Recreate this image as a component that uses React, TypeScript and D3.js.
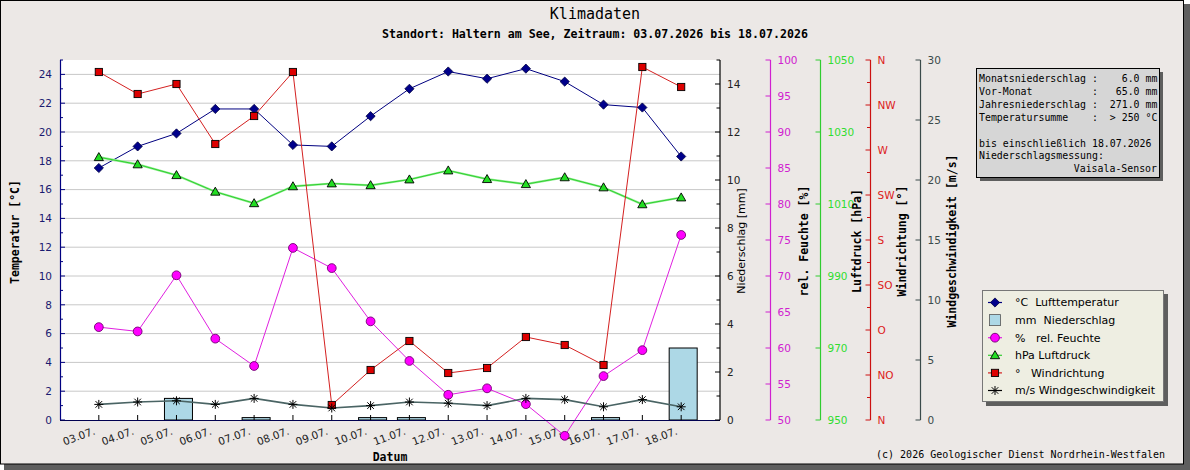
import React from "react";
import * as d3 from "d3";

// Tageswerte 03.07. - 18.07.
const days = ["03.07.", "04.07.", "05.07.", "06.07.", "07.07.", "08.07.", "09.07.", "10.07.", "11.07.", "12.07.", "13.07.", "14.07.", "15.07.", "16.07.", "17.07.", "18.07."];
const temperature = [17.5, 19.0, 19.9, 21.6, 21.6, 19.1, 19.0, 21.1, 23.0, 24.2, 23.7, 24.4, 23.5, 21.9, 21.7, 18.3];
const precipitation = [0, 0, 0.9, 0, 0.1, 0, 0, 0.1, 0.1, 0, 0, 0, 0, 0.1, 0, 3.0];
const humidity = [62.9, 62.3, 70.1, 61.3, 57.5, 73.9, 71.1, 63.7, 58.2, 53.5, 54.4, 52.2, 47.8, 56.1, 59.7, 75.7];
const pressure = [1023.0, 1021.0, 1018.0, 1013.4, 1010.2, 1014.9, 1015.7, 1015.2, 1016.8, 1019.3, 1016.9, 1015.5, 1017.4, 1014.6, 1009.9, 1011.8];
const windDirection = [348, 326, 336, 276, 304, 348, 15, 50, 79, 47, 52, 83, 75, 55, 353, 333];
const windSpeed = [1.3, 1.5, 1.6, 1.3, 1.8, 1.3, 1.0, 1.2, 1.5, 1.4, 1.2, 1.8, 1.7, 1.1, 1.7, 1.1];

const compass = ["N", "NO", "O", "SO", "S", "SW", "W", "NW", "N"];

const infoLines = [
  "Monatsniederschlag :    6.0 mm",
  "Vor-Monat          :   65.0 mm",
  "Jahresniederschlag :  271.0 mm",
  "Temperatursumme    :  > 250 °C",
  "",
  "bis einschließlich 18.07.2026",
  "Niederschlagsmessung:",
];
const infoFooter = "Vaisala-Sensor";

const legendLabels = [
  "°C  Lufttemperatur",
  "mm  Niederschlag",
  "%   rel. Feuchte",
  "hPa Luftdruck",
  "°   Windrichtung",
  "m/s Windgeschwindigkeit",
];

const MONO = "'DejaVu Sans Mono', monospace";
const SANS = "'DejaVu Sans', sans-serif";

const C = {
  temp: "#000080",
  humid: "#E020E0",
  press: "#33CC33",
  dir: "#D42020",
  speed: "#4A6464",
  bg: "#ECE8E6",
};

const left = 60, right = 720, top = 60, bottom = 420;

const x = d3.scaleLinear().domain([-1, days.length]).range([left, right]);
const yT = d3.scaleLinear().domain([0, 25]).range([bottom, top]);
const yP = d3.scaleLinear().domain([0, 15]).range([bottom, top]);
const yH = d3.scaleLinear().domain([50, 100]).range([bottom, top]);
const yL = d3.scaleLinear().domain([950, 1050]).range([bottom, top]);
const yD = d3.scaleLinear().domain([0, 360]).range([bottom, top]);
const yW = d3.scaleLinear().domain([0, 30]).range([bottom, top]);

const lineOf = (vals: number[], s: d3.ScaleLinear<number, number>) =>
  d3.line<number>().x((_, i) => x(i)).y((v) => s(v))(vals) || "";

const Diamond = ({ cx, cy }: { cx: number; cy: number }) => (
  <path d={`M${cx},${cy - 4.6}L${cx + 4.6},${cy}L${cx},${cy + 4.6}L${cx - 4.6},${cy}Z`} fill="#00008B" stroke="#000040" strokeWidth={0.8} />
);
const Circle = ({ cx, cy }: { cx: number; cy: number }) => (
  <circle cx={cx} cy={cy} r={4.4} fill="#FF00FF" stroke="#700070" strokeWidth={0.9} />
);
const Triangle = ({ cx, cy }: { cx: number; cy: number }) => (
  <path d={`M${cx},${cy - 4.6}L${cx + 4.6},${cy + 3.4}L${cx - 4.6},${cy + 3.4}Z`} fill="#22DD22" stroke="#000" strokeWidth={0.9} />
);
const Square = ({ cx, cy }: { cx: number; cy: number }) => (
  <rect x={cx - 3.6} y={cy - 3.6} width={7.2} height={7.2} fill="#DD0000" stroke="#000" strokeWidth={0.9} />
);
const Star = ({ cx, cy }: { cx: number; cy: number }) => (
  <path
    d={`M${cx - 4.5},${cy}H${cx + 4.5}M${cx},${cy - 4.5}V${cy + 4.5}M${cx - 3.3},${cy - 3.3}L${cx + 3.3},${cy + 3.3}M${cx - 3.3},${cy + 3.3}L${cx + 3.3},${cy - 3.3}`}
    stroke="#000"
    strokeWidth={1}
  />
);

type RightAxis = {
  ax: number;
  scale: d3.ScaleLinear<number, number>;
  major: number[];
  minor: number[];
  fmt: (v: number, i: number) => string;
  color: string;
  labelColor: string;
  title: string;
  titleX: number;
  titleFont: string;
  titleWeight: string;
};

const rightAxes: RightAxis[] = [
  {
    ax: 720, scale: yP, major: d3.range(0, 15, 2), minor: d3.range(1, 16, 2), fmt: (v) => String(v),
    color: "#000", labelColor: "#222", title: "Niederschlag [mm]", titleX: 741, titleFont: SANS, titleWeight: "normal",
  },
  {
    ax: 770.5, scale: yH, major: d3.range(50, 101, 5), minor: [], fmt: (v) => String(v),
    color: "#D020D0", labelColor: "#D020D0", title: "rel. Feuchte [%]", titleX: 804, titleFont: MONO, titleWeight: "bold",
  },
  {
    ax: 820.5, scale: yL, major: d3.range(950, 1051, 20), minor: [], fmt: (v) => String(v),
    color: "#30CC30", labelColor: "#30DD30", title: "Luftdruck [hPa]", titleX: 857, titleFont: MONO, titleWeight: "bold",
  },
  {
    ax: 870.5, scale: yD, major: d3.range(0, 361, 45), minor: d3.range(22.5, 360, 45), fmt: (_, i) => compass[i],
    color: "#CC1010", labelColor: "#DD2020", title: "Windrichtung [°]", titleX: 902, titleFont: MONO, titleWeight: "bold",
  },
  {
    ax: 920.5, scale: yW, major: d3.range(0, 31, 5), minor: [], fmt: (v) => String(v),
    color: "#3A4A4A", labelColor: "#3A4A4A", title: "Windgeschwindigkeit [m/s]", titleX: 952, titleFont: MONO, titleWeight: "bold",
  },
];

const legendSymbols = [
  (cx: number, cy: number) => <Diamond cx={cx} cy={cy} />,
  (cx: number, cy: number) => <rect x={cx - 5.5} y={cy - 5.5} width={11} height={11} fill="#ADD8E6" stroke="#555" strokeWidth={0.8} />,
  (cx: number, cy: number) => <Circle cx={cx} cy={cy} />,
  (cx: number, cy: number) => <Triangle cx={cx} cy={cy} />,
  (cx: number, cy: number) => <Square cx={cx} cy={cy} />,
  (cx: number, cy: number) => <Star cx={cx} cy={cy} />,
];
const legendColors = [C.temp, null, C.humid, C.press, C.dir, "#000"];

export default function App() {
  const barW = 28;
  return (
    <svg width={1190} height={470} style={{ position: "absolute", left: 0, top: 0 }} fontFamily={SANS}>
      {/* Rahmen mit Schatten */}
      <rect x={4} y={4} width={1186} height={466} fill="#5E5E5E" />
      <rect x={0.5} y={0.5} width={1183} height={463.5} fill={C.bg} stroke="#000" strokeWidth={1} />

      <text x={595} y={19} textAnchor="middle" fontFamily={MONO} fontSize={15}>Klimadaten</text>
      <text x={595} y={38} textAnchor="middle" fontFamily={MONO} fontSize={11.6} fontWeight="bold">
        Standort: Haltern am See, Zeitraum: 03.07.2026 bis 18.07.2026
      </text>

      {/* Plotfläche */}
      <rect x={left} y={top} width={right - left} height={bottom - top} fill="#fff" />
      {d3.range(2, 25, 2).map((v) => (
        <line key={v} x1={left} x2={right} y1={yT(v)} y2={yT(v)} stroke="#C8C8C8" strokeWidth={1} />
      ))}

      {/* Niederschlag */}
      {precipitation.map((v, i) =>
        v > 0 ? (
          <rect key={i} x={x(i) - barW / 2 + 2} y={yP(v)} width={barW} height={yP(0) - yP(v)} fill="#ADD8E6" stroke="#000" strokeWidth={1} />
        ) : null
      )}

      {/* Linien */}
      <path d={lineOf(temperature, yT)} fill="none" stroke={C.temp} strokeWidth={1} />
      <path d={lineOf(humidity, yH)} fill="none" stroke={C.humid} strokeWidth={1} />
      <path d={lineOf(pressure, yL)} fill="none" stroke="#90EE90" strokeWidth={2.2} />
      <path d={lineOf(pressure, yL)} fill="none" stroke="#30D030" strokeWidth={1} />
      <path d={lineOf(windDirection, yD)} fill="none" stroke={C.dir} strokeWidth={1} />
      <path d={lineOf(windSpeed, yW)} fill="none" stroke={C.speed} strokeWidth={1.6} />

      {/* Marker */}
      {temperature.map((v, i) => <Diamond key={i} cx={x(i)} cy={yT(v)} />)}
      {humidity.map((v, i) => <Circle key={i} cx={x(i)} cy={yH(v)} />)}
      {pressure.map((v, i) => <Triangle key={i} cx={x(i)} cy={yL(v)} />)}
      {windDirection.map((v, i) => <Square key={i} cx={x(i)} cy={yD(v)} />)}
      {windSpeed.map((v, i) => <Star key={i} cx={x(i)} cy={yW(v)} />)}

      {/* Temperatur-Achse */}
      <line x1={left + 0.5} x2={left + 0.5} y1={top} y2={bottom} stroke={C.temp} strokeWidth={1.2} />
      {d3.range(0, 25, 2).map((v) => (
        <g key={v}>
          <line x1={left} x2={left + 5} y1={yT(v)} y2={yT(v)} stroke={C.temp} />
          <text x={52} y={yT(v)} dy="0.36em" textAnchor="end" fontSize={10.5} fill="#1A1A70">{v}</text>
        </g>
      ))}
      {d3.range(1, 26, 2).map((v) => (
        <line key={v} x1={left} x2={left + 3} y1={yT(v)} y2={yT(v)} stroke={C.temp} />
      ))}
      <text transform={`translate(19,232) rotate(-90)`} textAnchor="middle" fontFamily={MONO} fontSize={11.5} fontWeight="bold">
        Temperatur [°C]
      </text>

      {/* Zeitachse */}
      <line x1={left} x2={right} y1={bottom + 0.5} y2={bottom + 0.5} stroke="#000050" strokeWidth={1.2} />
      {days.map((d, i) => (
        <g key={d}>
          <line x1={x(i)} x2={x(i)} y1={bottom} y2={bottom - 5} stroke="#000" />
          <text transform={`translate(${x(i) - 3},434) rotate(-20)`} textAnchor="end" fontSize={10.5} fill="#222">{d}</text>
        </g>
      ))}
      <text x={390} y={461} textAnchor="middle" fontFamily={MONO} fontSize={11.5} fontWeight="bold">Datum</text>

      {/* Rechte Achsen */}
      {rightAxes.map((a) => (
        <g key={a.title}>
          <line x1={a.ax} x2={a.ax} y1={top} y2={bottom} stroke={a.color} strokeWidth={1.2} />
          {a.major.map((v, i) => (
            <g key={v}>
              <line x1={a.ax - 5} x2={a.ax} y1={a.scale(v)} y2={a.scale(v)} stroke={a.color} />
              <text x={a.ax + 7} y={a.scale(v)} dy="0.36em" fontSize={10.5} fill={a.labelColor}>{a.fmt(v, i)}</text>
            </g>
          ))}
          {a.minor.map((v) => (
            <line key={v} x1={a.ax - 3.5} x2={a.ax} y1={a.scale(v)} y2={a.scale(v)} stroke={a.color} />
          ))}
          <text
            transform={`translate(${a.titleX},241) rotate(-90)`}
            textAnchor="middle"
            fontFamily={a.titleFont}
            fontWeight={a.titleWeight}
            fontSize={a.titleFont === SANS ? 11 : 11.5}
            dy="0.35em"
          >
            {a.title}
          </text>
        </g>
      ))}

      {/* Infokasten */}
      <rect x={980} y={72} width={183} height={109} fill="#5E5E5E" />
      <rect x={976.5} y={68.5} width={183} height={109} fill="#D6D6D6" stroke="#000" />
      {infoLines.map((t, i) => (
        <text key={i} x={979} y={82 + i * 12.9} fontFamily={MONO} fontSize={9.9} xmlSpace="preserve" style={{ whiteSpace: "pre" }}>
          {t}
        </text>
      ))}
      <text x={1157} y={82 + 7 * 12.9} textAnchor="end" fontFamily={MONO} fontSize={9.9}>{infoFooter}</text>

      {/* Legende */}
      <rect x={986} y={294} width={182} height={112} fill="#5E5E5E" />
      <rect x={982.5} y={290.5} width={181} height={111} fill="#EEEEE2" stroke="#777" />
      {legendLabels.map((t, i) => {
        const cy = 302.5 + i * 17.6;
        const col = legendColors[i];
        return (
          <g key={t}>
            {col && <line x1={988} x2={1002} y1={cy} y2={cy} stroke={col} strokeWidth={1.2} />}
            {legendSymbols[i](995, cy)}
            <text x={1015} y={cy} dy="0.36em" fontSize={11} xmlSpace="preserve" style={{ whiteSpace: "pre" }}>{t}</text>
          </g>
        );
      })}

      <text x={1165} y={458} textAnchor="end" fontFamily={MONO} fontSize={10}>
        (c) 2026 Geologischer Dienst Nordrhein-Westfalen
      </text>
    </svg>
  );
}
